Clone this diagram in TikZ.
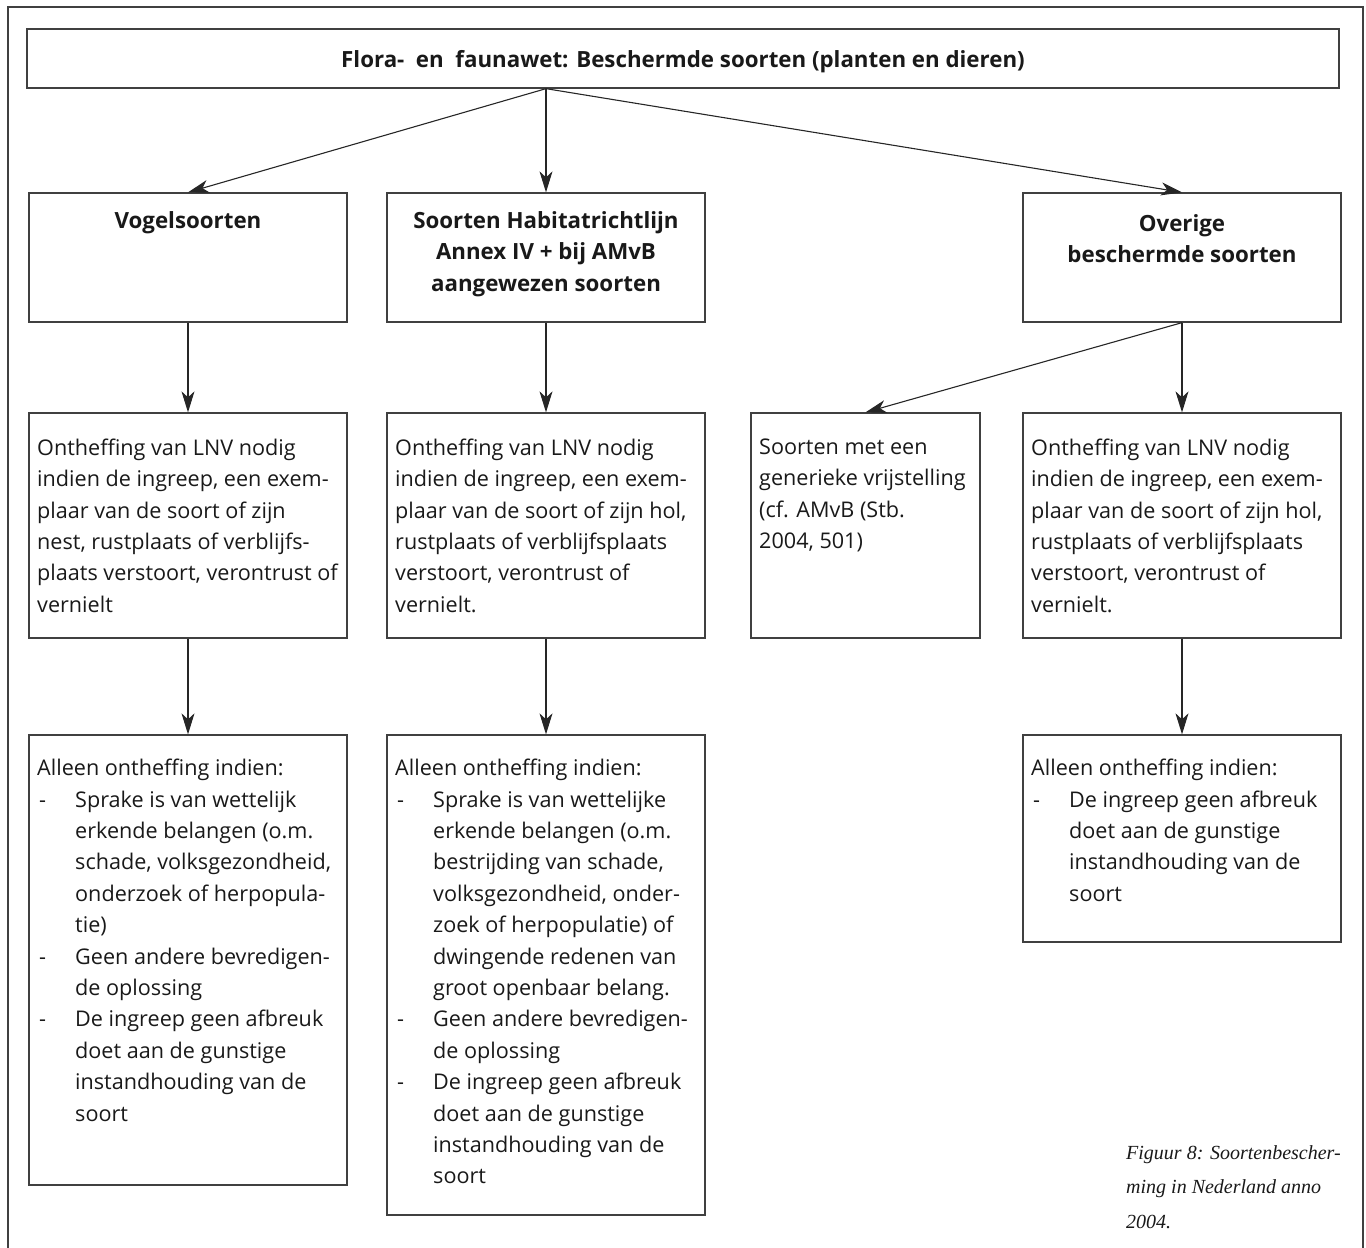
\documentclass[tikz,border=0pt]{standalone}
\usepackage{fontspec}
\setmainfont{Open Sans}
\newfontfamily\capfont{Liberation Serif}
\usetikzlibrary{arrows.meta}
\newcommand{\dsh}[1]{\makebox[38pt][l]{\hspace*{2pt}-}#1}
\newcommand{\ind}[1]{\hspace*{38pt}#1}
\begin{document}
\begin{tikzpicture}[x=1pt,y=-1pt,
 box/.style={draw=black!75, line width=1.3pt, rectangle, inner sep=0pt},
 txt/.style={anchor=north west, align=left, inner sep=0pt, text=black!90, font=\fontsize{21.6}{31.4}\selectfont},
 hd/.style={align=center, inner sep=0pt, text=black!90, font=\bfseries\fontsize{22.3}{31.5}\selectfont},
 arr/.style={-{Stealth[length=21pt,width=13pt,inset=6pt]}, line width=1.1pt, draw=black!85}]
\useasboundingbox (0,0) rectangle (1366,1248);
\draw[line width=1.3pt, black!75] (8,1252) -- (8,7) -- (1363,7) -- (1363,1252);
% boxes
\node[box, minimum width=1312pt, minimum height=59pt] (top) at (683,58.5) {};
\node[box, minimum width=318pt, minimum height=129pt] (v1) at (188,257.5) {};
\node[box, minimum width=318pt, minimum height=129pt] (v2) at (546,257.5) {};
\node[box, minimum width=318pt, minimum height=129pt] (v3) at (1182,257.5) {};
\node[box, minimum width=318pt, minimum height=225pt] (a) at (188,525.5) {};
\node[box, minimum width=318pt, minimum height=225pt] (b) at (546,525.5) {};
\node[box, minimum width=229pt, minimum height=225pt] (c) at (865.5,525.5) {};
\node[box, minimum width=318pt, minimum height=225pt] (d) at (1182,525.5) {};
\node[box, minimum width=318pt, minimum height=450pt] (e) at (188,960) {};
\node[box, minimum width=318pt, minimum height=480pt] (f) at (546,975) {};
\node[box, minimum width=318pt, minimum height=207pt] (g) at (1182,838.5) {};
% headers
\node[hd] (ttop) at (683,62) {Flora-\ \ en\ \ faunawet: Beschermde soorten (planten en dieren)};
\node[hd] (tv1) at (188,223) {Vogelsoorten};
\node[hd] (tv2) at (546,254) {Soorten Habitatrichtlijn\\Annex IV + bij AMvB\\aangewezen soorten};
\node[hd] (tv3) at (1182,238.5) {Overige\\beschermde soorten};
% body texts
\node[txt] (ta) at (37,438.5) {Ontheffing van LNV nodig\\indien de ingreep, een exem-\\plaar van de soort of zijn\\nest, rustplaats of verblijfs-\\plaats verstoort, verontrust of\\vernielt};
\node[txt] (tb) at (395,438.5) {Ontheffing van LNV nodig\\indien de ingreep, een exem-\\plaar van de soort of zijn hol,\\rustplaats of verblijfsplaats\\verstoort, verontrust of\\vernielt.};
\node[txt] (tc) at (759,438.5) {Soorten met een\\generieke vrijstelling\\(cf. AMvB (Stb.\\2004, 501)};
\node[txt] (td) at (1031,438.5) {Ontheffing van LNV nodig\\indien de ingreep, een exem-\\plaar van de soort of zijn hol,\\rustplaats of verblijfsplaats\\verstoort, verontrust of\\vernielt.};
\node[txt] (te) at (37,759) {Alleen ontheffing indien:\\\dsh{Sprake is van wettelijk}\\\ind{erkende belangen (o.m.}\\\ind{schade, volksgezondheid,}\\\ind{onderzoek of herpopula-}\\\ind{tie)}\\\dsh{Geen andere bevredigen-}\\\ind{de oplossing}\\\dsh{De ingreep geen afbreuk}\\\ind{doet aan de gunstige}\\\ind{instandhouding van de}\\\ind{soort}};
\node[txt] (tf) at (395,759) {Alleen ontheffing indien:\\\dsh{Sprake is van wettelijke}\\\ind{erkende belangen (o.m.}\\\ind{bestrijding van schade,}\\\ind{volksgezondheid, onder-}\\\ind{zoek of herpopulatie) of}\\\ind{dwingende redenen van}\\\ind{groot openbaar belang.}\\\dsh{Geen andere bevredigen-}\\\ind{de oplossing}\\\dsh{De ingreep geen afbreuk}\\\ind{doet aan de gunstige}\\\ind{instandhouding van de}\\\ind{soort}};
\node[txt] (tg) at (1031,759) {Alleen ontheffing indien:\\\dsh{De ingreep geen afbreuk}\\\ind{doet aan de gunstige}\\\ind{instandhouding van de}\\\ind{soort}};
% caption
\node[anchor=north west, align=left, inner sep=0pt, text=black!90, font=\capfont\itshape\fontsize{20}{34.5}\selectfont] (cap) at (1126,1145) {Figuur 8: Soortenbescher-\\ming in Nederland anno\\2004.};
% arrows
\draw[arr] (top.south -| v2.north) -- (v1.north);
\draw[arr] (top.south -| v2.north) -- (v2.north);
\draw[arr] (top.south -| v2.north) -- (v3.north);
\draw[arr] (v1.south) -- (a.north);
\draw[arr] (v2.south) -- (b.north);
\draw[arr] (v3.south) -- (c.north);
\draw[arr] (v3.south) -- (d.north);
\draw[arr] (a.south) -- (e.north);
\draw[arr] (b.south) -- (f.north);
\draw[arr] (d.south) -- (g.north);
\end{tikzpicture}
\end{document}
